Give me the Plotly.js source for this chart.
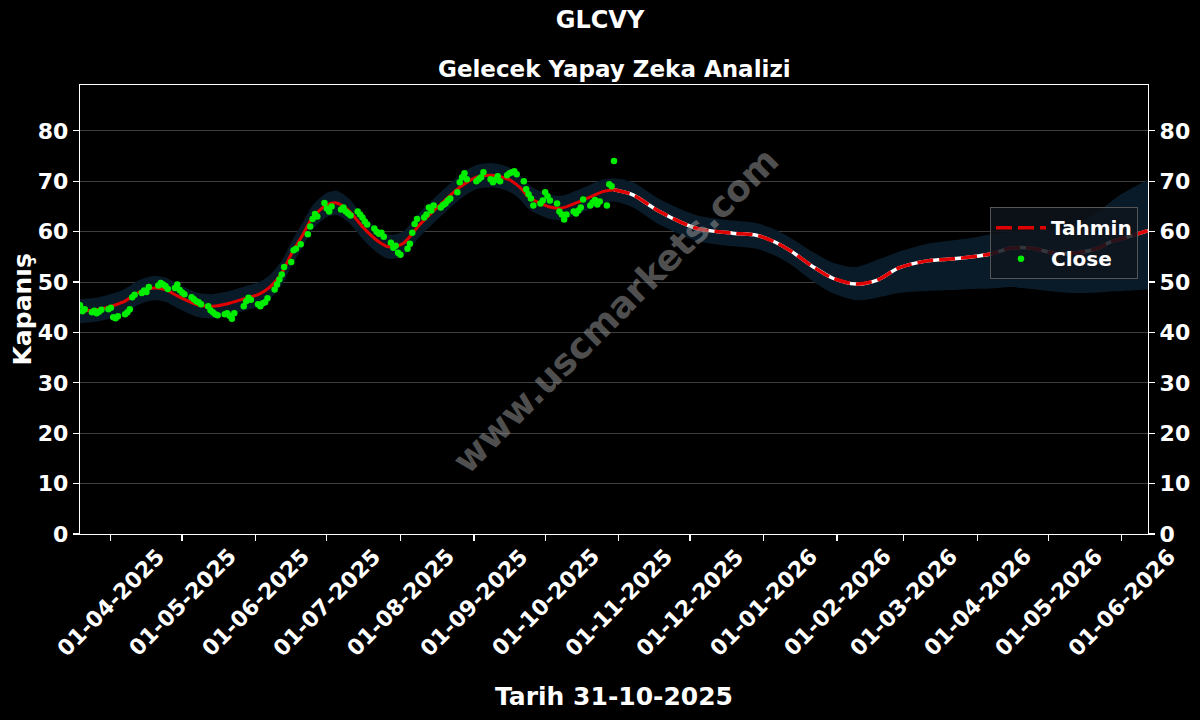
<!DOCTYPE html>
<html>
<head>
<meta charset="utf-8">
<script src="https://cdn.plot.ly/plotly-3.0.1.min.js"></script>
<style>html,body{margin:0;padding:0;background:#000;}#chart{width:1200px;height:720px;}</style>
</head>
<body>
<div id="chart"></div>
<script>
// ---- Data ----
const closeDates = [
'2025-03-19','2025-03-20','2025-03-21','2025-03-24','2025-03-25','2025-03-26','2025-03-27','2025-03-28','2025-03-31',
'2025-04-01','2025-04-02','2025-04-03','2025-04-04','2025-04-07','2025-04-08','2025-04-09','2025-04-10','2025-04-11',
'2025-04-14','2025-04-15','2025-04-16','2025-04-17','2025-04-21','2025-04-22','2025-04-23','2025-04-24','2025-04-25',
'2025-04-28','2025-04-29','2025-04-30','2025-05-01','2025-05-02','2025-05-05','2025-05-06','2025-05-07','2025-05-08',
'2025-05-09','2025-05-12','2025-05-13','2025-05-14','2025-05-15','2025-05-16','2025-05-19','2025-05-20','2025-05-21',
'2025-05-22','2025-05-23','2025-05-27','2025-05-28','2025-05-29','2025-05-30','2025-06-02','2025-06-03','2025-06-04',
'2025-06-05','2025-06-06','2025-06-09','2025-06-10','2025-06-11','2025-06-12','2025-06-13','2025-06-16','2025-06-17',
'2025-06-18','2025-06-20','2025-06-23','2025-06-24','2025-06-25','2025-06-26','2025-06-27','2025-06-30','2025-07-01',
'2025-07-02','2025-07-03','2025-07-07','2025-07-08','2025-07-09','2025-07-10','2025-07-11','2025-07-14','2025-07-15',
'2025-07-16','2025-07-17','2025-07-18','2025-07-21','2025-07-22','2025-07-23','2025-07-24','2025-07-25','2025-07-28',
'2025-07-29','2025-07-30','2025-07-31','2025-08-01','2025-08-04','2025-08-05','2025-08-06','2025-08-07','2025-08-08',
'2025-08-11','2025-08-12','2025-08-13','2025-08-14','2025-08-15','2025-08-18','2025-08-19','2025-08-20','2025-08-21',
'2025-08-22','2025-08-25','2025-08-26','2025-08-27','2025-08-28','2025-08-29','2025-09-02','2025-09-03','2025-09-04',
'2025-09-05','2025-09-08','2025-09-09','2025-09-10','2025-09-11','2025-09-12','2025-09-15','2025-09-16','2025-09-17',
'2025-09-18','2025-09-19','2025-09-22','2025-09-23','2025-09-24','2025-09-25','2025-09-26','2025-09-29','2025-09-30',
'2025-10-01','2025-10-02','2025-10-03','2025-10-06','2025-10-07','2025-10-08','2025-10-09','2025-10-10','2025-10-13',
'2025-10-14','2025-10-15','2025-10-16','2025-10-17','2025-10-20','2025-10-21','2025-10-22','2025-10-23','2025-10-24',
'2025-10-27','2025-10-28','2025-10-29','2025-10-30'
];
const closeValues = [
45.4,44.2,44.6,44.0,44.3,43.8,44.1,44.5,44.6,
44.9,43.0,42.8,43.2,43.6,44.0,44.6,47.0,47.5,
47.8,48.3,48.0,49.0,49.3,49.8,49.5,49.2,48.6,
48.8,49.5,48.4,47.9,47.6,47.0,46.6,46.2,46.0,
45.6,45.2,44.4,44.0,43.6,43.4,43.6,43.8,43.3,
42.7,43.8,45.2,46.2,46.9,46.5,45.6,45.2,45.8,
46.0,46.8,48.5,49.5,50.5,51.5,53.0,54.0,56.3,
56.6,57.5,59.5,61.0,62.5,63.5,63.0,65.7,64.6,
64.0,65.0,64.4,64.8,64.0,63.6,63.2,64.0,63.4,
62.8,62.0,61.4,60.6,60.0,59.6,59.8,59.0,57.8,
56.8,57.2,55.8,55.4,56.6,57.6,59.8,61.5,62.5,
62.8,63.4,64.8,64.2,65.2,64.8,65.3,65.6,66.2,
66.6,67.8,69.8,70.8,71.6,70.4,70.0,70.4,70.8,
71.8,70.4,69.8,70.3,71.0,70.0,71.2,71.6,71.8,
72.0,71.4,70.0,68.4,67.4,66.6,65.2,65.6,66.2,
67.8,67.0,66.2,65.6,64.0,63.4,62.4,63.4,64.0,
63.6,64.2,64.8,66.4,65.2,65.8,66.3,65.4,66.0,
65.2,69.4,69.0,74.0
];
const predDates = [
'2025-03-19','2025-03-27','2025-04-06','2025-04-13','2025-04-19','2025-04-24','2025-04-30','2025-05-08','2025-05-14',
'2025-05-21','2025-05-28','2025-06-02','2025-06-07','2025-06-12','2025-06-16','2025-06-21','2025-06-25','2025-07-01',
'2025-07-05','2025-07-10','2025-07-16','2025-07-22','2025-07-27','2025-08-02','2025-08-09','2025-08-17','2025-08-26',
'2025-09-02','2025-09-08','2025-09-13','2025-09-17','2025-09-21','2025-09-24','2025-10-03','2025-10-08','2025-10-14',
'2025-10-20','2025-10-25','2025-10-30','2025-11-07','2025-11-17','2025-11-28','2025-12-05','2025-12-19','2025-12-29',
'2026-01-06','2026-01-13','2026-01-22','2026-01-30','2026-02-09','2026-02-18','2026-02-27','2026-03-11','2026-03-22',
'2026-03-30','2026-04-07','2026-04-15','2026-04-24','2026-05-05','2026-05-13','2026-05-22','2026-05-27','2026-06-01',
'2026-06-12'
];
const predValues = [
44.2,44.6,46.0,48.0,48.8,48.5,47.0,45.4,45.2,
45.8,46.8,47.5,49.0,51.8,55.5,59.5,62.8,65.3,
65.7,64.3,61.0,58.3,57.0,57.6,61.3,65.0,68.8,
70.8,71.2,70.8,70.0,68.5,66.9,64.9,64.7,65.7,
66.9,67.9,68.3,67.3,64.3,61.7,60.5,59.7,59.3,
57.9,56.0,53.0,50.8,49.6,50.4,52.8,54.2,54.6,
55.0,55.6,56.7,56.7,55.6,55.8,56.7,57.9,58.6,
60.2
];
const bandUpper = [
46.6,47.0,48.4,50.4,51.2,50.9,49.4,47.8,47.6,
48.2,49.2,49.9,51.4,54.2,57.9,61.9,65.2,67.7,
68.1,66.7,63.4,60.7,59.4,60.0,63.7,67.4,71.2,
73.2,73.6,73.2,72.4,70.9,69.3,67.3,67.1,68.1,
69.3,70.3,70.6,69.8,66.8,64.3,63.1,62.2,61.7,
60.4,58.6,55.9,53.9,53.0,54.4,56.0,57.6,58.3,
58.8,59.5,60.0,60.3,60.5,61.5,64.0,65.8,67.5,
70.3
];
const bandLower = [
41.8,42.2,43.6,45.6,46.4,46.1,44.6,43.0,42.8,
43.4,44.4,45.1,46.6,49.4,53.1,57.1,60.4,62.9,
63.3,61.9,58.6,55.9,54.6,55.2,58.9,62.6,66.4,
68.4,68.8,68.4,67.6,66.1,64.5,62.5,62.3,63.3,
64.5,65.5,66.0,64.8,61.7,59.2,58.0,57.1,56.6,
55.2,53.3,50.1,47.8,46.4,46.9,47.8,48.2,48.4,
48.6,48.7,49.0,48.6,48.0,47.8,47.9,48.1,48.2,
48.5
];
const tickDates = ['2025-04-01','2025-05-01','2025-06-01','2025-07-01','2025-08-01','2025-09-01','2025-10-01','2025-11-01',
  '2025-12-01','2026-01-01','2026-02-01','2026-03-01','2026-04-01','2026-05-01','2026-06-01'];
const tickLabels = ['01-04-2025','01-05-2025','01-06-2025','01-07-2025','01-08-2025','01-09-2025','01-10-2025','01-11-2025',
  '01-12-2025','01-01-2026','01-02-2026','01-03-2026','01-04-2026','01-05-2026','01-06-2026'];
const forecastStart = '2025-10-30';
const xRange = ['2025-03-19','2026-06-12'];
const yTicks = [0,10,20,30,40,50,60,70,80];
const mainTitle = 'GLCVY';
const subTitle = 'Gelecek Yapay Zeka Analizi';
const xTitle = 'Tarih 31-10-2025';
const yTitle = 'Kapanış';

// ---- Build ----
const histX = [], histY = [], fcX = [], fcY = [];
predDates.forEach((d,i) => {
  if (d <= forecastStart) { histX.push(d); histY.push(predValues[i]); }
  if (d >= forecastStart) { fcX.push(d); fcY.push(predValues[i]); }
});
const F = 'DejaVu Sans, Arial, sans-serif';
const sp = {shape:'spline', smoothing:0.8};
const traces = [
  {x: predDates, y: bandLower, type:'scatter', mode:'lines', line:Object.assign({width:0}, sp), showlegend:false, hoverinfo:'skip'},
  {x: predDates, y: bandUpper, type:'scatter', mode:'lines', fill:'tonexty', fillcolor:'rgb(9,27,40)', line:Object.assign({width:0}, sp), showlegend:false, hoverinfo:'skip'},
  {x: histX, y: histY, type:'scatter', mode:'lines', line:Object.assign({color:'#e00000', width:3}, sp), showlegend:false},
  {x: closeDates, y: closeValues, type:'scatter', mode:'markers', name:'Close', legendgroup:'b', legendrank:2, marker:{color:'#00ee00', size:6.5}},
  {x: fcX, y: fcY, type:'scatter', mode:'lines', line:Object.assign({color:'#ffffff', width:3.5}, sp), showlegend:false},
  {x: fcX, y: fcY, type:'scatter', mode:'lines', name:'Tahmin', legendgroup:'a', legendrank:1, line:Object.assign({color:'#e00000', width:3.5, dash:'16px,6px'}, sp)},
  {x: [xRange[0]], y: [null], yaxis:'y2', type:'scatter', mode:'lines', showlegend:false, hoverinfo:'skip'}
];
const axisFont = {family:F, size:22, color:'#ffffff', weight:'bold'};
const yCommon = {range:[0,89.1], tickvals:yTicks, ticks:'outside', ticklen:6, tickwidth:1.2, tickcolor:'#fff',
  tickfont:axisFont, showline:true, linecolor:'#fff', linewidth:1.2, zeroline:false, fixedrange:true};
const tickAnns = tickDates.map((d,i) => ({text:tickLabels[i], xref:'x', yref:'paper', x:d, y:(534-602)/449,
  xanchor:'center', yanchor:'middle', textangle:-45, showarrow:false, font:axisFont}));
const layout = {
  width:1200, height:720,
  paper_bgcolor:'#000', plot_bgcolor:'#000',
  margin:{l:80, r:52, t:85, b:186},
  showlegend:true,
  title:{text:mainTitle, font:{family:F, size:24, color:'#fff', weight:'bold'}, x:0.5, xanchor:'center', y:1-20/720, yanchor:'middle', yref:'container'},
  xaxis:{type:'date', range:xRange, tickvals:tickDates, showticklabels:false,
    ticks:'outside', ticklen:6, tickwidth:1.2, tickcolor:'#fff',
    showline:true, mirror:true, linecolor:'#fff', linewidth:1.2, showgrid:false, zeroline:false},
  yaxis:Object.assign({}, yCommon, {side:'left', showgrid:true, gridcolor:'rgba(140,140,140,0.55)', gridwidth:0.8}),
  yaxis2:Object.assign({}, yCommon, {side:'right', overlaying:'y', showgrid:false}),
  legend:{x:0.9906, xanchor:'right', y:0.728, yanchor:'top', traceorder:'grouped', bgcolor:'rgba(14,20,28,0.85)', bordercolor:'#555', borderwidth:1,
    font:{family:F, size:20, color:'#fff', weight:'bold'}, itemwidth:50, tracegroupgap:2},
  annotations:[
    {text:subTitle, xref:'paper', yref:'paper', x:0.5, y:(534-69)/449, xanchor:'center', yanchor:'middle', showarrow:false,
      font:{family:F, size:23, color:'#fff', weight:'bold'}},
    {text:xTitle, xref:'paper', yref:'paper', x:0.5, y:(534-696)/449, xanchor:'center', yanchor:'middle', showarrow:false,
      font:{family:F, size:25, color:'#fff', weight:'bold'}},
    {text:yTitle, xref:'paper', yref:'paper', x:(22-80)/1068, y:0.5, xanchor:'center', yanchor:'middle', textangle:-90, showarrow:false,
      font:{family:F, size:25, color:'#fff', weight:'bold'}},
    {text:'www.uscmarkets.com', xref:'paper', yref:'paper', x:(615-80)/1068, y:(534-310)/449, xanchor:'center', yanchor:'middle', textangle:-45, showarrow:false,
      font:{family:F, size:36, color:'rgba(150,150,150,0.55)', weight:'bold'}}
  ].concat(tickAnns)
};
Plotly.newPlot('chart', traces, layout, {displayModeBar:false, staticPlot:true});
</script>
</body>
</html>
